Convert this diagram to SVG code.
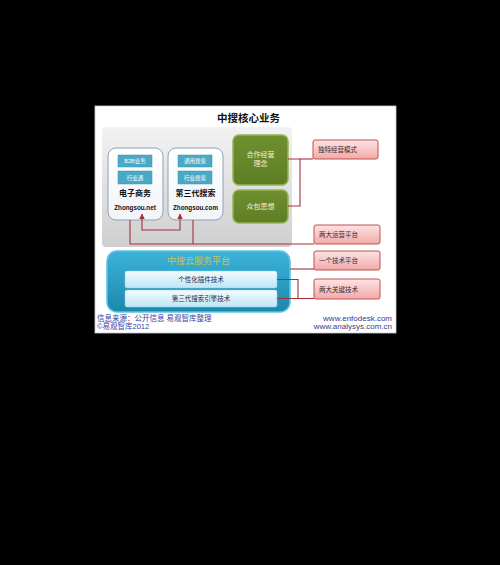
<svg xmlns="http://www.w3.org/2000/svg" width="500" height="565" viewBox="0 0 500 565">
<style>
.cjk{font-family:"Liberation Sans","Noto Sans CJK SC",sans-serif}
.c{text-anchor:middle}
.box{fill:url(#wg);stroke:#8ea2ba;stroke-width:1}
.teal{fill:#4aaac6;stroke:#3b93ad;stroke-width:0.5}
.tt{font-size:5.5px;fill:#ffffff}
.green{fill:url(#gg);stroke:#93b552;stroke-width:1.5}
.gt{font-size:7px;fill:#f4f0cc}
.pink{fill:url(#pg);stroke:#c0504d;stroke-width:1}
.pt{font-size:6.5px;fill:#3a2a2a}
.bar{fill:url(#bg);stroke:#8fd0e8;stroke-width:0.5}
.bt{font-size:6.5px;fill:#1a2a50}
.ln{fill:none;stroke:#a3303c;stroke-width:1.1}
.ft{font-size:7.5px;fill:#3b3fa0}
.url{font-family:"Liberation Sans",sans-serif;font-size:8px;fill:#3b3b8c;text-anchor:end}
</style>
<defs>
<linearGradient id="grayg" x1="0" y1="0" x2="0" y2="1"><stop offset="0" stop-color="#f2f2f2"/><stop offset="1" stop-color="#cfcfcf"/></linearGradient>
<linearGradient id="wg" x1="0" y1="0" x2="0" y2="1"><stop offset="0" stop-color="#ffffff"/><stop offset="1" stop-color="#f2f4f8"/></linearGradient>
<linearGradient id="gg" x1="0" y1="0" x2="0" y2="1"><stop offset="0" stop-color="#6f9030"/><stop offset="1" stop-color="#5e7e24"/></linearGradient>
<linearGradient id="pg" x1="0" y1="0" x2="0" y2="1"><stop offset="0" stop-color="#fde4e4"/><stop offset="1" stop-color="#f2a9a9"/></linearGradient>
<linearGradient id="blg" x1="0" y1="0" x2="0" y2="1"><stop offset="0" stop-color="#3db3da"/><stop offset="1" stop-color="#1b88aa"/></linearGradient>
<linearGradient id="bg" x1="0" y1="0" x2="0" y2="1"><stop offset="0" stop-color="#f4fbff"/><stop offset="1" stop-color="#bde6f6"/></linearGradient>
<marker id="ah" viewBox="0 0 10 10" refX="9" refY="5" markerWidth="5" markerHeight="5" orient="auto-start-reverse"><path d="M0,0 L10,5 L0,10 z" fill="#a3303c"/></marker>
</defs>
<rect width="500" height="565" fill="#000000"/>
<rect x="95" y="106" width="301" height="227" fill="#ffffff" stroke="#c8ccd8" stroke-width="0.8"/>
<text class="cjk c" x="248.5" y="122" font-size="10.5" font-weight="bold" fill="#111111">中搜核心业务</text>

<g id="core-panel"><rect x="102" y="127" width="190" height="120" rx="4" fill="url(#grayg)"/></g>

<g id="node-ecommerce">
<rect class="box" x="108" y="148" width="55" height="72" rx="8"/>
<rect class="teal" x="118" y="155" width="34" height="12"/>
<text class="cjk c tt" x="135" y="163">B2B业务</text>
<rect class="teal" x="118" y="171" width="34" height="13"/>
<text class="cjk c tt" x="135" y="179.5">行业通</text>
<text class="cjk c" x="135" y="196" font-size="8" font-weight="bold" fill="#111">电子商务</text>
<text class="c" x="135" y="209.5" font-family="Liberation Sans,sans-serif" font-size="6.3" font-weight="bold" fill="#111">Zhongsou.net</text>
</g>

<g id="node-search">
<rect class="box" x="168" y="148" width="55" height="72" rx="8"/>
<rect class="teal" x="178" y="155" width="34" height="12"/>
<text class="cjk c tt" x="195" y="163">通用搜索</text>
<rect class="teal" x="178" y="171" width="34" height="13"/>
<text class="cjk c tt" x="195" y="179.5">行业搜索</text>
<text class="cjk c" x="195.5" y="196" font-size="8" font-weight="bold" fill="#111">第三代搜索</text>
<text class="c" x="195.5" y="209.5" font-family="Liberation Sans,sans-serif" font-size="6.3" font-weight="bold" fill="#111">Zhongsou.com</text>
</g>

<g id="node-coop">
<rect class="green" x="233" y="135" width="55" height="50" rx="6"/>
<text class="cjk c gt" x="260.5" y="157">合作经营</text>
<text class="cjk c gt" x="260.5" y="166">理念</text>
</g>

<g id="node-crowd">
<rect class="green" x="233" y="190" width="55" height="33" rx="6"/>
<text class="cjk c gt" x="260.5" y="209">众包思想</text>
</g>

<g id="node-cloud">
<rect x="107" y="251" width="183" height="61" rx="10" fill="url(#blg)" stroke="#5cc4e4" stroke-width="1.5"/>
<text class="cjk c" x="198.5" y="264" font-size="9" fill="#d4c04c">中搜云服务平台</text>
<rect class="bar" x="125" y="271" width="152" height="17" rx="2"/>
<text class="cjk c bt" x="201" y="282">个性化插件技术</text>
<rect class="bar" x="125" y="290" width="152" height="17" rx="2"/>
<text class="cjk c bt" x="201" y="301">第三代搜索引擎技术</text>
</g>

<g id="label-mode"><rect class="pink" x="313" y="140" width="65" height="19" rx="2"/><text class="cjk pt" x="318" y="151.5">独特经营模式</text></g>
<g id="label-ops"><rect class="pink" x="314" y="225" width="66" height="19" rx="2"/><text class="cjk pt" x="319" y="237">两大运营平台</text></g>
<g id="label-tech"><rect class="pink" x="314" y="251" width="66" height="19" rx="2"/><text class="cjk pt" x="319" y="263">一个技术平台</text></g>
<g id="label-key"><rect class="pink" x="314" y="279" width="66" height="20" rx="2"/><text class="cjk pt" x="319" y="291.5">两大关键技术</text></g>

<g id="connectors">
<path class="ln" d="M288,159 H300 V206 H288"/>
<path class="ln" d="M300,159 H313"/>
<path class="ln" d="M142,214 V230 H180 V214" marker-start="url(#ah)" marker-end="url(#ah)"/>
<path class="ln" d="M130,220 V244 H314"/>
<path class="ln" d="M193,220 V244"/>
<path class="ln" d="M290,269 H314"/>
<path class="ln" d="M277,279.5 H298 V298.5 H277"/>
<path class="ln" d="M298,298.5 H314"/>
</g>

<text class="cjk ft" x="97" y="320.5">信息来源：公开信息 易观智库整理</text>
<text class="cjk ft" x="97" y="328.5">©易观智库2012</text>
<text class="url" x="392" y="320.5">www.enfodesk.com</text>
<text class="url" x="392" y="328.5">www.analysys.com.cn</text>
</svg>
